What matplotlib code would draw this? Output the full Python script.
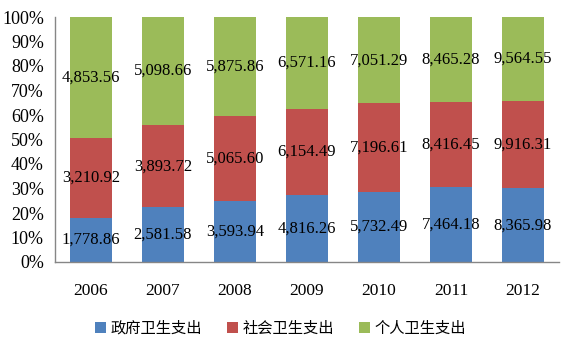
import matplotlib
matplotlib.use("Agg")
import matplotlib.pyplot as plt
import numpy as np
from matplotlib.patches import Patch

years = ["2006", "2007", "2008", "2009", "2010", "2011", "2012"]
government = [1778.86, 2581.58, 3593.94, 4816.26, 5732.49, 7464.18, 8365.98]
social = [3210.92, 3893.72, 5065.60, 6154.49, 7196.61, 8416.45, 9916.31]
personal = [4853.56, 5098.66, 5875.86, 6571.16, 7051.29, 8465.28, 9564.55]
series_names = ["政府卫生支出", "社会卫生支出", "个人卫生支出"]
colors = ["#4F81BD", "#C0504D", "#9BBB59"]

serif = ["Liberation Serif", "DejaVu Serif"]
cjk = ["Noto Sans CJK SC", "DejaVu Sans"]

fig = plt.figure(figsize=(5.61, 3.46), dpi=100)
ax = fig.add_axes([55 / 561, 1 - 262 / 346, 504 / 561, 245 / 346])

data = np.array([government, social, personal])
totals = data.sum(axis=0)
shares = data / totals * 100
x = np.arange(len(years))
bottom = np.zeros(len(years))
for i in range(3):
    ax.bar(x, shares[i], width=0.57, bottom=bottom, color=colors[i],
           edgecolor="none", zorder=2)
    for xi, b, h, v in zip(x, bottom, shares[i], data[i]):
        ax.text(xi, b + h / 2, f"{v:,.2f}", ha="center", va="center",
                fontsize=12, family=serif, color="black", zorder=3)
    bottom += shares[i]

ax.set_xlim(-0.5, len(years) - 0.5)
ax.set_ylim(0, 100)
ax.set_yticks(np.arange(0, 101, 10))
ax.set_yticklabels([f"{t}%" for t in range(0, 101, 10)], family=serif, fontsize=13)
ax.set_xticks(x)
ax.set_xticklabels(years, family=serif, fontsize=12.5)
ax.tick_params(axis="both", length=0)
ax.tick_params(axis="y", pad=8)
ax.tick_params(axis="x", pad=15)
for s in ["top", "right"]:
    ax.spines[s].set_visible(False)
for s in ["left", "bottom"]:
    ax.spines[s].set_color("#868686")
    ax.spines[s].set_linewidth(1.0)

handles = [Patch(facecolor=c, edgecolor="none") for c in colors]
fig.legend(handles, series_names, loc="center", bbox_to_anchor=(0.5, 1 - 328 / 346),
           ncol=3, frameon=False, prop={"family": cjk, "size": 11},
           handlelength=0.75, handleheight=0.75, handletextpad=0.3, columnspacing=1.6)

fig.savefig("out.png", dpi=100)
